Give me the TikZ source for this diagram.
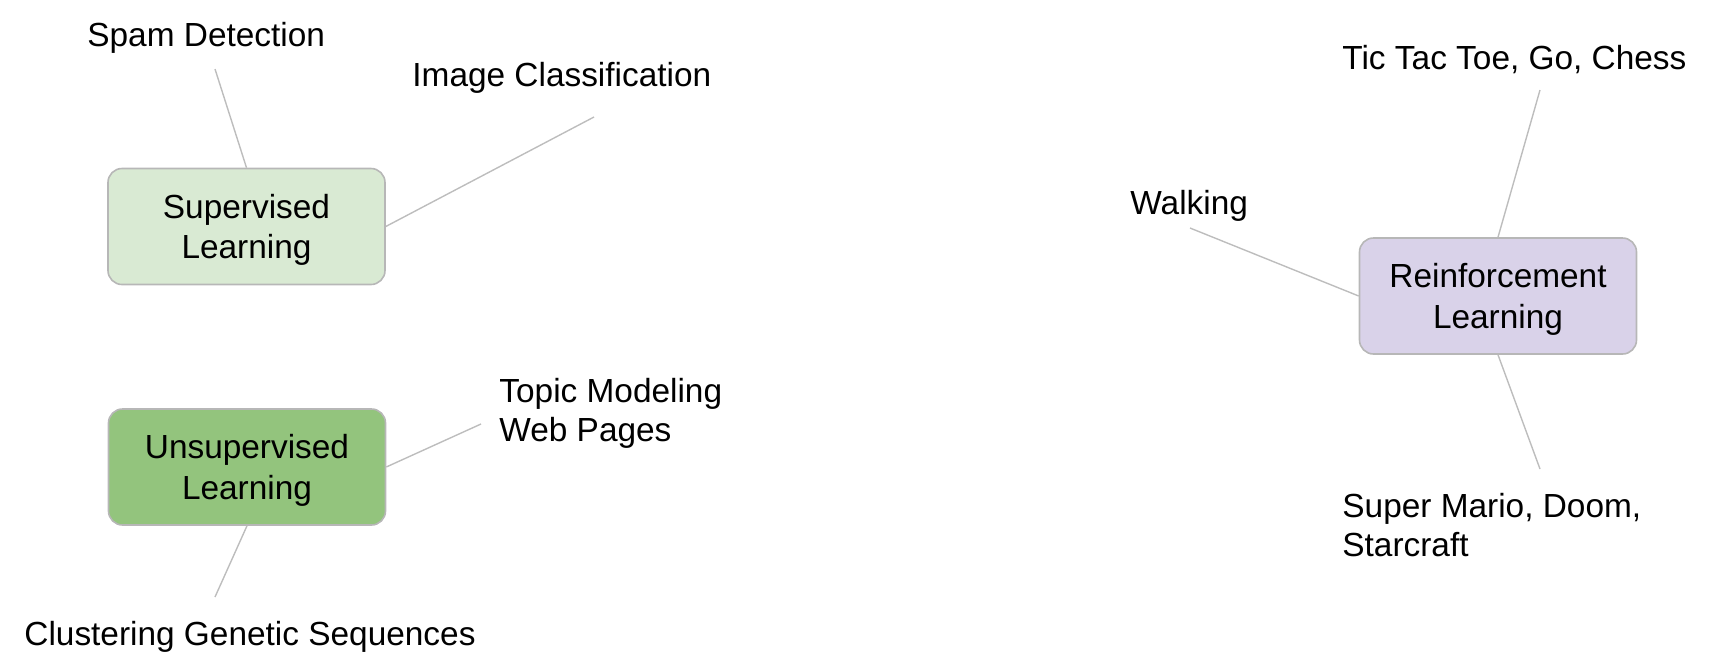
\documentclass[tikz,border=0pt]{standalone}
\usepackage{fontspec}
\setmainfont{Liberation Sans}
\definecolor{supfill}{HTML}{D9EAD3}
\definecolor{unsfill}{HTML}{93C47D}
\definecolor{rlfill}{HTML}{D9D2E9}
\definecolor{edgegray}{HTML}{B7B7B7}
\definecolor{linkgray}{HTML}{BDBDBD}
\tikzset{
  catbox/.style={draw=edgegray, line width=0.8pt, rounded corners=7pt, minimum width=138.5pt, minimum height=58pt, inner sep=0pt},
  cattext/.style={align=center, inner sep=0pt, yshift=-1.7pt, font=\fontsize{16.7}{20.2}\selectfont},
  leaf/.style={anchor=west, inner sep=0pt, align=left, font=\fontsize{16.7}{19.5}\selectfont},
  link/.style={draw=linkgray, line width=0.7pt}
}
\begin{document}
\begin{tikzpicture}[x=0.5pt,y=-0.5pt]
\useasboundingbox (0,0) rectangle (1709,654);
\node[catbox, fill=supfill, label={[cattext]center:Supervised\\Learning}] (sup) at (246.5,226.5) {};
\node[catbox, fill=unsfill, label={[cattext]center:Unsupervised\\Learning}] (uns) at (247,467) {};
\node[catbox, fill=rlfill, label={[cattext]center:Reinforcement\\Learning}] (rl) at (1498,296) {};

\node[leaf] (spam) at (87,37.5) {Spam Detection};
\node[leaf] (img) at (412,77.5) {Image Classification};
\node[leaf] (topic) at (499,413) {Topic Modeling\\Web Pages};
\node[leaf] (clus) at (24,636.5) {Clustering Genetic Sequences};
\node[leaf] (tic) at (1342,59.5) {Tic Tac Toe, Go, Chess};
\node[leaf] (walk) at (1130,205.5) {Walking};
\node[leaf] (mario) at (1342,525) {Super Mario, Doom,\\Starcraft};

\coordinate (cspam) at (215,69);
\coordinate (cimg) at (594,117);
\coordinate (ctopic) at (481,424);
\coordinate (cclus) at (215,597);
\coordinate (ctic) at (1540,90);
\coordinate (cwalk) at (1190,228);
\coordinate (cmario) at (1540,469);

\draw[link] (cspam) -- (sup.north);
\draw[link] (cimg) -- (sup.east);
\draw[link] (ctopic) -- (uns.east);
\draw[link] (cclus) -- (uns.south);
\draw[link] (ctic) -- (rl.north);
\draw[link] (cwalk) -- (rl.west);
\draw[link] (cmario) -- (rl.south);
\end{tikzpicture}
\end{document}
